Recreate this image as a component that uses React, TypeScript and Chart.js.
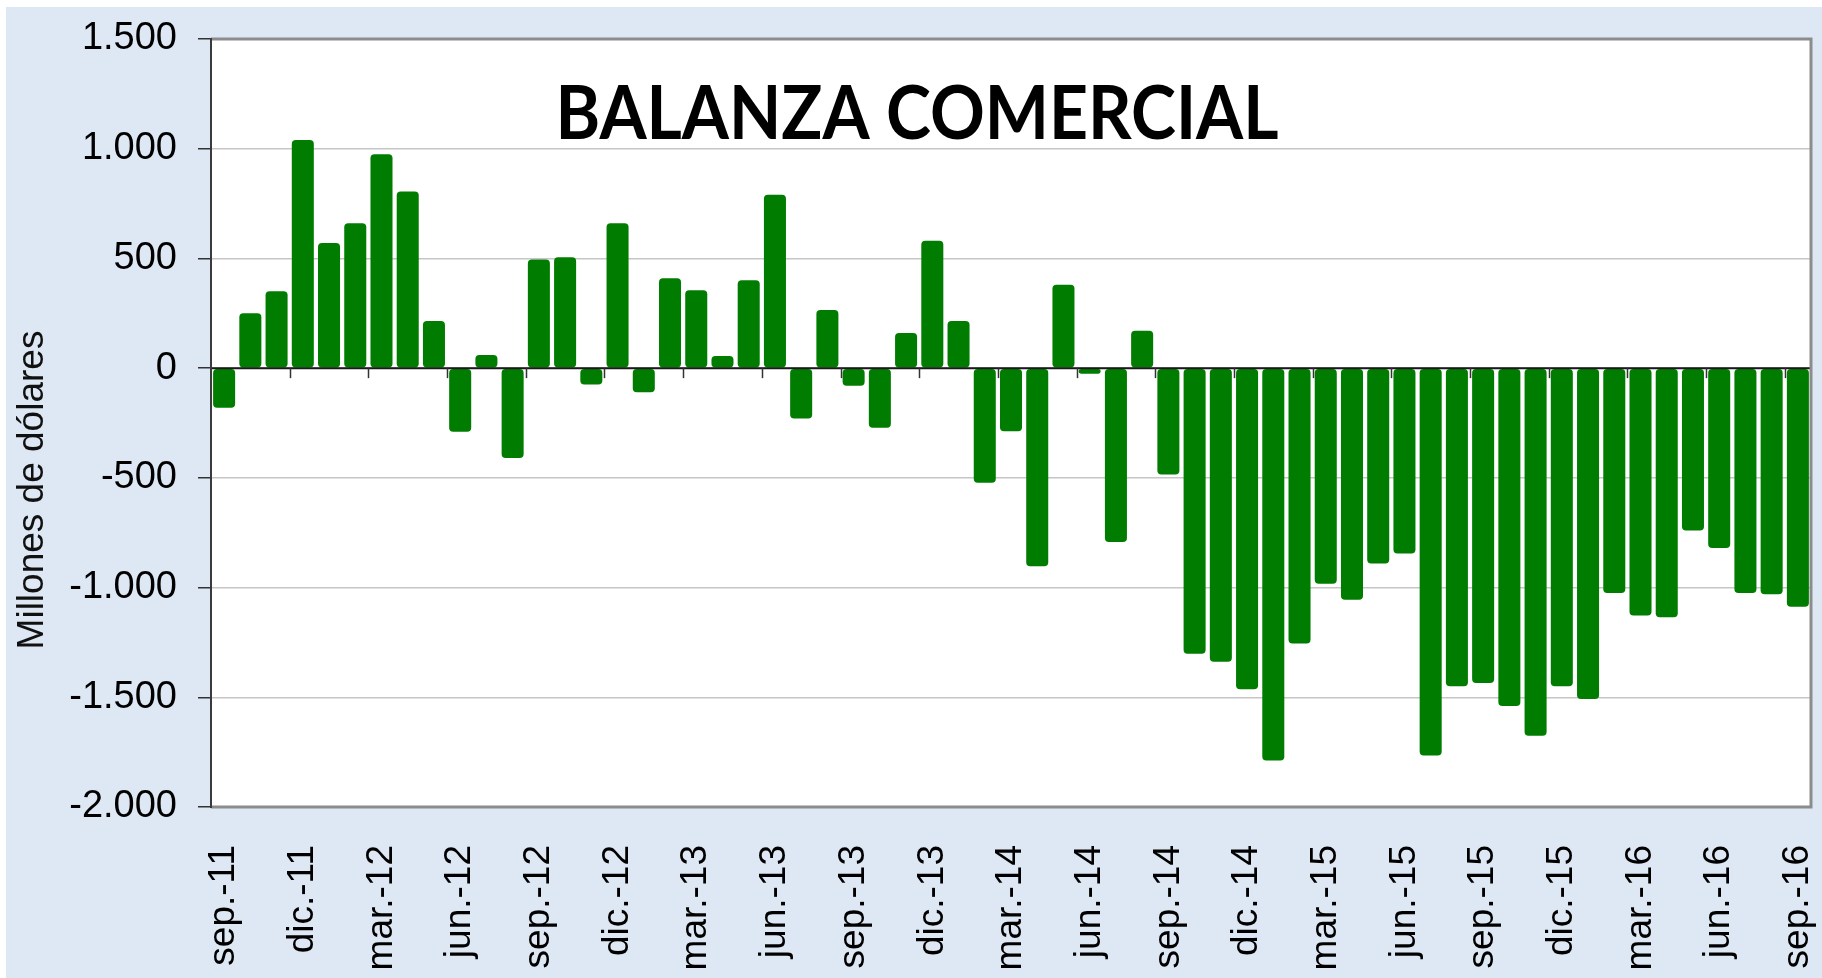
import React, { useEffect, useRef } from "react";
import { Chart, registerables } from "chart.js";

Chart.register(...registerables);

const categories: string[] = [
  "sep.-11", "oct.-11", "nov.-11", "dic.-11",
  "ene.-12", "feb.-12", "mar.-12", "abr.-12", "may.-12", "jun.-12", "jul.-12", "ago.-12", "sep.-12", "oct.-12", "nov.-12", "dic.-12",
  "ene.-13", "feb.-13", "mar.-13", "abr.-13", "may.-13", "jun.-13", "jul.-13", "ago.-13", "sep.-13", "oct.-13", "nov.-13", "dic.-13",
  "ene.-14", "feb.-14", "mar.-14", "abr.-14", "may.-14", "jun.-14", "jul.-14", "ago.-14", "sep.-14", "oct.-14", "nov.-14", "dic.-14",
  "ene.-15", "feb.-15", "mar.-15", "abr.-15", "may.-15", "jun.-15", "jul.-15", "ago.-15", "sep.-15", "oct.-15", "nov.-15", "dic.-15",
  "ene.-16", "feb.-16", "mar.-16", "abr.-16", "may.-16", "jun.-16", "jul.-16", "ago.-16", "sep.-16",
];

const balanza: number[] = [
  -180, 250, 350, 1040,
  570, 660, 975, 805, 215, -290, 60, -410, 495, 505, -75, 660,
  -110, 410, 355, 55, 400, 790, -230, 265, -80, -272, 160, 580,
  215, -522, -288, -903, 380, -25, -792, 170, -485, -1302, -1338, -1463,
  -1788, -1255, -983, -1055, -890, -845, -1765, -1450, -1435, -1540, -1675, -1450,
  -1508, -1025, -1127, -1135, -740, -820, -1025, -1030, -1087,
];

const yMin = -2000;
const yMax = 1500;
const yStep = 500;
const labelEvery = 3;

const chartTitle = "BALANZA COMERCIAL";
const yAxisTitle = "Millones de dólares";

const fmt = (v: number): string => {
  const s = Math.abs(v).toString().replace(/\B(?=(\d{3})+(?!\d))/g, ".");
  return (v < 0 ? "-" : "") + s;
};

const decorPlugin = {
  id: "decor",
  beforeDraw(chart: any) {
    const { ctx, chartArea: a } = chart;
    ctx.save();
    ctx.fillStyle = "#ffffff";
    ctx.fillRect(a.left, a.top, a.right - a.left, a.bottom - a.top);
    ctx.restore();
  },
  afterDatasetsDraw(chart: any) {
    const { ctx, chartArea: a, scales } = chart;
    const x = scales.x;
    const y = scales.y;
    ctx.save();
    const y0 = y.getPixelForValue(0);
    ctx.strokeStyle = "#1a1a1a";
    ctx.lineWidth = 2;
    ctx.beginPath();
    ctx.moveTo(a.left, y0);
    ctx.lineTo(a.right, y0);
    ctx.stroke();
    ctx.lineWidth = 1.5;
    ctx.strokeStyle = "#333333";
    for (let i = labelEvery; i < categories.length; i += labelEvery) {
      const px = Math.round((x.getPixelForValue(i - 1) + x.getPixelForValue(i)) / 2) + 0.5;
      ctx.beginPath();
      ctx.moveTo(px, y0);
      ctx.lineTo(px, y0 + 10);
      ctx.stroke();
    }
    // frame
    ctx.strokeStyle = "#8c8c8c";
    ctx.lineWidth = 3;
    ctx.beginPath();
    ctx.moveTo(a.left, a.top);
    ctx.lineTo(a.right, a.top);
    ctx.lineTo(a.right, a.bottom);
    ctx.lineTo(a.left, a.bottom);
    ctx.stroke();
    ctx.strokeStyle = "#3a3a3a";
    ctx.lineWidth = 2;
    ctx.beginPath();
    ctx.moveTo(a.left, a.top - 1);
    ctx.lineTo(a.left, a.bottom + 1);
    ctx.stroke();
    ctx.restore();
  },
  afterDraw(chart: any) {
    const { ctx } = chart;
    ctx.save();
    ctx.font = "bold 74px Lato";
    ctx.fillStyle = "#000000";
    ctx.textAlign = "center";
    ctx.textBaseline = "alphabetic";
    const w = ctx.measureText(chartTitle).width;
    const sx = 723 / w;
    ctx.translate(911, 132);
    ctx.scale(sx, 1);
    ctx.fillText(chartTitle, 0, 0);
    ctx.restore();

    ctx.save();
    ctx.font = "37px 'Liberation Sans', Arial, sans-serif";
    ctx.fillStyle = "#111111";
    ctx.textAlign = "center";
    ctx.textBaseline = "middle";
    ctx.translate(27, 483);
    ctx.rotate(-Math.PI / 2);
    ctx.fillText(yAxisTitle, 0, 0);
    ctx.restore();
  },
};

export default function App() {
  const ref = useRef<HTMLCanvasElement | null>(null);

  useEffect(() => {
    if (!ref.current) return;
    const chart = new Chart(ref.current, {
      type: "bar",
      data: {
        labels: categories,
        datasets: [
          {
            label: "Balanza comercial",
            data: balanza,
            backgroundColor: "#007d00",
            borderWidth: 0,
            borderRadius: 4,
            borderSkipped: false,
            barPercentage: 0.84,
            categoryPercentage: 1.0,
          },
        ],
      },
      options: {
        animation: false,
        responsive: false,
        maintainAspectRatio: false,
        devicePixelRatio: 1,
        layout: { padding: { top: 32, right: 11, left: 0, bottom: 0 } },
        plugins: {
          legend: { display: false },
          tooltip: { enabled: false },
          title: { display: false },
        },
        scales: {
          x: {
            offset: true,
            grid: { display: false, offset: true },
            border: { display: false },
            ticks: {
              autoSkip: false,
              minRotation: 90,
              maxRotation: 90,
              padding: 30,
              color: "#000000",
              font: { family: "'Liberation Sans', Arial, sans-serif", size: 37 },
              callback: (_v: any, i: number) => (i % labelEvery === 0 ? categories[i] : ""),
            },
            afterFit: (s: any) => {
              s.height = 171;
              s.paddingLeft = 0;
              s.paddingRight = 0;
            },
          },
          y: {
            min: yMin,
            max: yMax,
            ticks: {
              stepSize: yStep,
              padding: 21,
              color: "#000000",
              font: { family: "'Liberation Sans', Arial, sans-serif", size: 38 },
              callback: (v: any) => fmt(Number(v)),
            },
            grid: {
              color: "#c6c6c6",
              lineWidth: 1.5,
              drawTicks: true,
              tickLength: 13,
              tickColor: "#333333",
              tickWidth: 1.5,
            },
            border: { display: false },
            afterFit: (s: any) => {
              s.width = 205;
              s.paddingTop = 0;
              s.paddingBottom = 0;
            },
          },
        },
      },
      plugins: [decorPlugin],
    } as any);
    return () => chart.destroy();
  }, []);

  return (
    <div style={{ position: "absolute", left: 0, top: 0, width: 1822, height: 978, background: "#ffffff", overflow: "hidden" }}>
      <div style={{ position: "absolute", left: 6, top: 7, width: 1816, height: 971, background: "#dee8f4" }}>
        <canvas ref={ref} width={1816} height={971} style={{ display: "block" }} />
      </div>
    </div>
  );
}
